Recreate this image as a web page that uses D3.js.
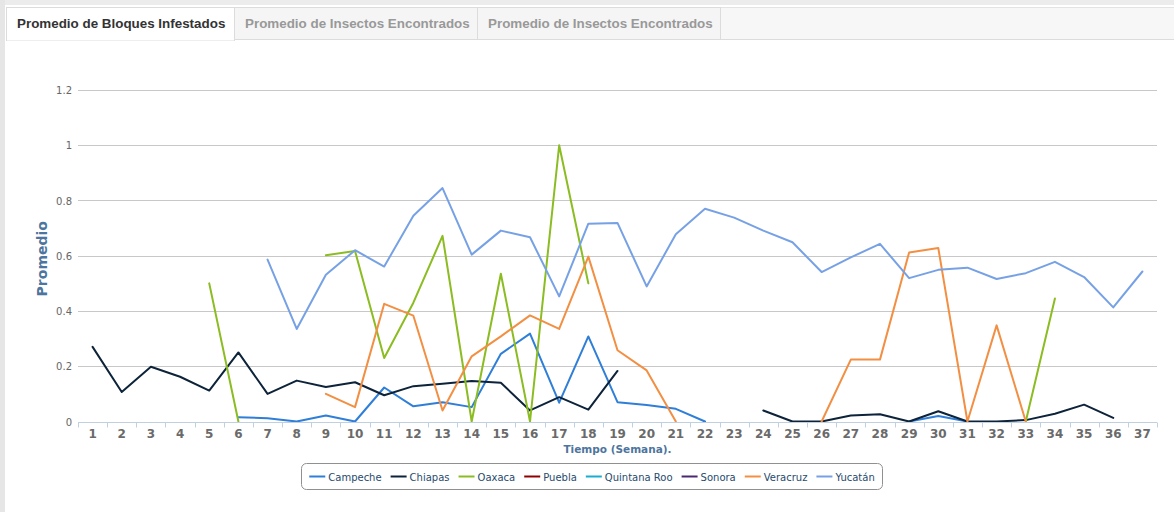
<!DOCTYPE html>
<html>
<head>
<meta charset="utf-8">
<script src="https://cdn.jsdelivr.net/npm/d3@7"></script>
<style>
  html, body { margin: 0; padding: 0; background: #fff; }
  body { width: 1174px; height: 512px; position: relative; overflow: hidden; }
  #chart { position: absolute; left: 0; top: 0; }
</style>
</head>
<body>
<svg id="chart" width="1174" height="512"></svg>
<script>
/* Promedio de Bloques Infestados · line chart per estado, semanas 1-37 */
(function () {
    const W = 1174, H = 512;
    const svg = d3.select("#chart");

    // ---- data ----
    const tabs = ["Promedio de Bloques Infestados", "Promedio de Insectos Encontrados", "Promedio de Insectos Encontrados"];
    const weeks = d3.range(1, 38);
    const yTicks = [0, 0.2, 0.4, 0.6, 0.8, 1, 1.2];

    const campeche = [null, null, null, null, null, 0.015, 0.012, 0, 0.022, 0, 0.123, 0.055, 0.07, 0.052, 0.245, 0.318, 0.068, 0.308, 0.07, 0.06, 0.046, 0,
        null, null, null, null, null, null, 0, 0.02, 0, null, null, null, null, null, null];
    const chiapas = [0.27, 0.107, 0.198, 0.162, 0.112, 0.25, 0.1, 0.148, 0.125, 0.142, 0.095, 0.128, 0.137, 0.147, 0.14, 0.04, 0.088, 0.043, 0.183,
        null, null, null, null, 0.04, 0, 0, 0.022, 0.026, 0, 0.037, 0, 0, 0.005, 0.028, 0.061, 0.013, null];
    const oaxaca = [null, null, null, null, 0.5, 0, null, null, 0.602, 0.617, 0.23, 0.43, 0.672, 0, 0.535, 0, 1.0, 0.5,
        null, null, null, null, null, null, null, null, null, null, null, null, null, null, 0, 0.445, null, null, null];
    const puebla = [null, null, null, null, null, null, null, null, null, null, null, null, null, null, null, null, null, null, null,
        null, null, null, null, null, null, null, null, null, null, null, null, null, null, null, null, null, null];
    const quintanaRoo = [null, null, null, null, null, null, null, null, null, null, null, null, null, null, null, null, null, null, null,
        null, null, null, null, null, null, null, null, null, null, null, null, null, null, null, null, null, null];
    const sonora = [null, null, null, null, null, null, null, null, null, null, null, null, null, null, null, null, null, null, null,
        null, null, null, null, null, null, null, null, null, null, null, null, null, null, null, null, null, null];
    const veracruz = [null, null, null, null, null, null, null, null, 0.1, 0.052, 0.426, 0.383, 0.04, 0.236, 0.308, 0.384, 0.335, 0.597, 0.258, 0.185, 0,
        null, null, null, null, 0, 0.224, 0.224, 0.612, 0.628, 0, 0.348, 0, null, null, null, null];
    const yucatan = [null, null, null, null, null, null, 0.586, 0.335, 0.531, 0.62, 0.561, 0.745, 0.845, 0.604, 0.691, 0.667, 0.453, 0.716, 0.719,
        0.489, 0.678, 0.77, 0.738, 0.691, 0.649, 0.541, 0.594, 0.643, 0.519, 0.549, 0.557, 0.516, 0.537, 0.578, 0.523, 0.413, 0.543];

    const series = [
        { name: "Campeche", color: "#2f7ed8", values: campeche },
        { name: "Chiapas", color: "#0d233a", values: chiapas },
        { name: "Oaxaca", color: "#8bbc21", values: oaxaca },
        { name: "Puebla", color: "#910000", values: puebla },
        { name: "Quintana Roo", color: "#1aadce", values: quintanaRoo },
        { name: "Sonora", color: "#492970", values: sonora },
        { name: "Veracruz", color: "#f28f43", values: veracruz },
        { name: "Yucatán", color: "#77a1e5", values: yucatan }
    ];

    // ---- page frame + tabs ----
    svg.append("rect").attr("x", 0).attr("y", 0).attr("width", W).attr("height", 5).attr("fill", "#ececec");
    svg.append("rect").attr("x", 0).attr("y", 0).attr("width", 5).attr("height", H).attr("fill", "#e6e6e6");

    const tabTop = 7, tabBot = 40;
    svg.append("rect").attr("x", 6).attr("y", tabTop).attr("width", W - 6).attr("height", tabBot - tabTop)
        .attr("fill", "#f7f7f7");
    svg.append("line").attr("x1", 6).attr("x2", W).attr("y1", tabTop + 0.5).attr("y2", tabTop + 0.5)
        .attr("stroke", "#e3e3e3");
    svg.append("line").attr("x1", 6).attr("x2", W).attr("y1", tabBot - 0.5).attr("y2", tabBot - 0.5)
        .attr("stroke", "#dcdcdc");

    // tab edges as seen in the page
    const tabEdges = [6, 234, 477, 720];
    const gTabs = svg.append("g");
    tabs.forEach((t, i) => {
        const x0 = tabEdges[i], x1 = tabEdges[i + 1];
        gTabs.append("rect")
            .attr("x", x0 + 0.5).attr("y", tabTop + 0.5)
            .attr("width", x1 - x0).attr("height", tabBot - tabTop - (i === 0 ? 0 : 1))
            .attr("fill", i === 0 ? "#fff" : "#f5f5f5")
            .attr("stroke", "#dcdcdc");
        gTabs.append("text")
            .attr("x", x0 + 11).attr("y", 28)
            .attr("font-family", "Liberation Sans, Arial, sans-serif")
            .attr("font-size", 13.4).attr("font-weight", "bold")
            .attr("fill", i === 0 ? "#333" : "#999")
            .text(t);
    });
    // white gap under the active tab
    gTabs.append("rect").attr("x", tabEdges[0] + 1).attr("y", tabBot - 1.5)
        .attr("width", tabEdges[1] - tabEdges[0] - 1).attr("height", 2).attr("fill", "#fff");

    // ---- chart ----
    const plot = { left: 78, right: 1157, top: 90, bottom: 421.5 };

    const x = d3.scaleBand().domain(weeks).range([plot.left, plot.right]);
    const y = d3.scaleLinear().domain([0, 1.2]).range([plot.bottom, plot.top]);

    // grid
    svg.append("g")
        .selectAll("line").data(yTicks).join("line")
        .attr("x1", plot.left).attr("x2", plot.right)
        .attr("y1", d => Math.round(y(d)) + 0.5).attr("y2", d => Math.round(y(d)) + 0.5)
        .attr("stroke", "#c8c8c8").attr("stroke-width", 1);

    // y labels
    svg.append("g")
        .selectAll("text").data(yTicks).join("text")
        .attr("x", 72).attr("y", d => y(d) + 4)
        .attr("text-anchor", "end")
        .attr("font-family", "DejaVu Sans, sans-serif")
        .attr("font-size", 10).attr("fill", "#666")
        .text(d => d3.format("~g")(d));

    // y title
    svg.append("text")
        .attr("transform", `translate(47,${(plot.top + plot.bottom) / 2 + 3}) rotate(-90)`)
        .attr("text-anchor", "middle")
        .attr("font-family", "DejaVu Sans, sans-serif")
        .attr("font-size", 14).attr("font-weight", "bold")
        .attr("fill", "#4d759e")
        .text("Promedio");

    // series
    const line = d3.line()
        .defined(d => d != null)
        .x((d, i) => x(weeks[i]) + x.bandwidth() / 2)
        .y(d => y(d));

    svg.append("g")
        .selectAll("path").data(series).join("path")
        .attr("d", d => line(d.values))
        .attr("fill", "none")
        .attr("stroke", d => d.color)
        .attr("stroke-width", 2)
        .attr("stroke-linejoin", "round")
        .attr("stroke-linecap", "round");

    // x axis (drawn above series, like the original)
    const xAxis = d3.axisBottom(x).tickSize(0).tickPadding(0);
    const gx = svg.append("g").attr("transform", `translate(0,${Math.round(plot.bottom) + 0.5})`).call(xAxis);
    gx.select(".domain").attr("stroke", "#c0d0e0").attr("d", `M${plot.left},0H${plot.right}`);
    gx.selectAll(".tick text")
        .attr("y", 15.5).attr("dy", null)
        .attr("font-family", "DejaVu Sans, sans-serif")
        .attr("font-size", 12).attr("font-weight", "bold")
        .attr("fill", "#6a6a6a");
    gx.append("g")
        .selectAll("line").data(weeks.concat([null])).join("line")
        .attr("x1", (d, i) => Math.round(plot.left + i * x.step()) + 0.5)
        .attr("x2", (d, i) => Math.round(plot.left + i * x.step()) + 0.5)
        .attr("y1", 0).attr("y2", 5)
        .attr("stroke", "#c0d0e0");

    svg.append("text")
        .attr("x", (plot.left + plot.right) / 2).attr("y", 453)
        .attr("text-anchor", "middle")
        .attr("font-family", "DejaVu Sans, sans-serif")
        .attr("font-size", 10.5).attr("font-weight", "bold")
        .attr("fill", "#4d759e")
        .text("Tiempo (Semana).");

    // ---- legend ----
    const lg = svg.append("g");
    const box = lg.append("rect")
        .attr("y", 463.5).attr("height", 26).attr("rx", 5)
        .attr("fill", "#fff").attr("stroke", "#909090");
    let lx = 0;
    const items = lg.append("g");
    series.forEach(s => {
        const it = items.append("g").attr("transform", `translate(${lx},0)`);
        it.append("line").attr("x1", 0).attr("x2", 16).attr("y1", 476.5).attr("y2", 476.5)
            .attr("stroke", s.color).attr("stroke-width", 2);
        const t = it.append("text").attr("x", 19).attr("y", 480.5)
            .attr("font-family", "DejaVu Sans, sans-serif")
            .attr("font-size", 10).attr("fill", "#274b6d")
            .text(s.name);
        lx += 19 + t.node().getComputedTextLength() + 9;
    });
    const legW = lx - 9 + 16;
    const legX = 592 - legW / 2;
    items.attr("transform", `translate(${legX + 8},0)`);
    box.attr("x", Math.round(legX) + 0.5).attr("width", Math.round(legW));
})();
</script>
</body>
</html>
